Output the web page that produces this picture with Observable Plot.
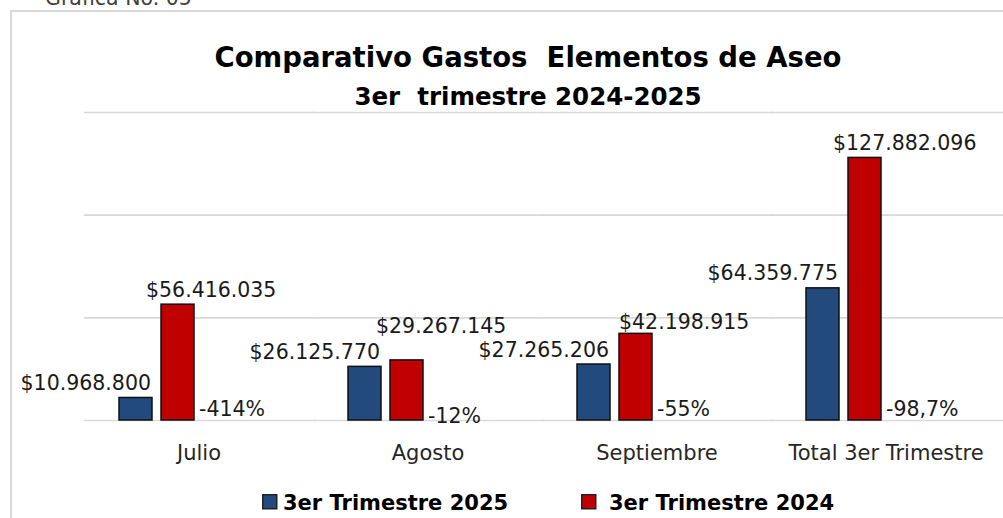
<!DOCTYPE html>
<html>
<head>
<meta charset="utf-8">
<script src="https://cdn.jsdelivr.net/npm/d3@7"></script>
<script src="https://cdn.jsdelivr.net/npm/@observablehq/plot@0.6"></script>
<style>
  html, body { margin: 0; padding: 0; background: #fff; }
  #wrap { position: relative; width: 1003px; height: 518px; overflow: hidden; background: #fff; font-family: "DejaVu Sans", sans-serif; }
  #frame { position: absolute; left: 10px; top: 10px; width: 1100px; height: 600px; border: 2px solid #d9d9d9; box-sizing: border-box; }
  #wrap > svg { position: absolute; left: 0; top: 0; }
</style>
</head>
<body>
<div id="wrap"><div id="frame"></div></div>
<script>
// ---- data ----
const categories = ["Julio", "Agosto", "Septiembre", "Total 3er Trimestre"];
const series = ["3er Trimestre 2025", "3er Trimestre 2024"];
const gastos2025 = [10968800, 26125770, 27265206, 64359775];
const gastos2024 = [56416035, 29267145, 42198915, 127882096];
const variacion = ["-414%", "-12%", "-55%", "-98,7%"];
const yTicks = [0, 50000000, 100000000, 150000000];
const titleLines = ["Comparativo Gastos  Elementos de Aseo", "3er  trimestre 2024-2025"];
const caption = "Gráfica No. 05";

// ---- styles ----
const colors = ["#234a7d", "#c00000"];
const slots = [series[0], series[1], "Variación", "—"];

const locale = d3.formatLocale({decimal: ",", thousands: ".", grouping: [3], currency: ["$", ""]});
const fmt = locale.format("$,.0f");

const rows = [];
categories.forEach((c, i) => {
  rows.push({category: c, serie: series[0], value: gastos2025[i], i});
  rows.push({category: c, serie: series[1], value: gastos2024[i], i});
});
const rows25 = rows.filter(d => d.serie === series[0]);
const rows24 = rows.filter(d => d.serie === series[1]);
const pct = categories.map((c, i) => ({category: c, text: variacion[i], i}));

const labelStyle = {fontSize: 20.5, fill: "#1a1a1a", lineAnchor: "bottom"};

const chart = Plot.plot({
  width: 1003,
  height: 518,
  marginLeft: 84,
  marginRight: 3,
  marginTop: 112,
  marginBottom: 98,
  style: {fontFamily: "DejaVu Sans", background: "transparent", overflow: "visible"},
  fx: {domain: categories, padding: 0, label: null},
  x: {domain: slots, paddingInner: 0.214, paddingOuter: 0.833, axis: null},
  y: {domain: [0, 150000000], axis: null},
  color: {domain: series, range: colors},
  marks: [
    Plot.ruleY(yTicks, {stroke: "#d9d9d9", strokeWidth: 1.6, insetRight: -3}),
    Plot.barY(rows, {fx: "category", x: "serie", y: "value", fill: "serie", stroke: "#111", strokeWidth: 1.5}),
    Plot.text(rows25, {fx: "category", x: "serie", y: "value", text: d => fmt(d.value), textAnchor: "end", dx: 15, dy: -8, ...labelStyle}),
    Plot.text(rows24.filter(d => d.category !== "Agosto" && d.category !== "Septiembre"), {fx: "category", x: "serie", y: "value", text: d => fmt(d.value), textAnchor: "start", dx: -32, dy: -8, ...labelStyle}),
    Plot.text(rows24.filter(d => d.category === "Agosto"), {fx: "category", x: "serie", y: "value", text: d => fmt(d.value), textAnchor: "start", dx: -31, dy: -27, ...labelStyle}),
    Plot.text(rows24.filter(d => d.category === "Septiembre"), {fx: "category", x: "serie", y: "value", text: d => fmt(d.value), textAnchor: "start", dx: -17, dy: -5, ...labelStyle}),
    Plot.text(pct.filter(d => d.category !== "Agosto"), {fx: "category", x: () => slots[2], y: 0, text: "text", textAnchor: "start", dx: -21, dy: -5, ...labelStyle}),
    Plot.text(pct.filter(d => d.category === "Agosto"), {fx: "category", x: () => slots[2], y: 0, text: "text", textAnchor: "start", dx: -21, dy: 2, ...labelStyle}),
    Plot.axisFx({anchor: "bottom", tickSize: 0, tickPadding: 25, fontSize: 21, fill: "#262626", label: null})
  ]
});
document.getElementById("wrap").appendChild(chart);

// ---- title, caption, legend overlay ----
const ov = d3.select("#wrap").append("svg")
  .attr("width", 1003).attr("height", 518)
  .style("pointer-events", "none")
  .style("font-family", "DejaVu Sans");

const keepSpaces = s => s.replace(/  /g, "\u00a0 ");

ov.append("text").attr("x", 45).attr("y", 5).attr("font-size", 20.5).attr("fill", "#404040").text(caption);

ov.append("text").attr("x", 528).attr("y", 67).attr("text-anchor", "middle")
  .attr("font-size", 27.5).attr("font-weight", "bold").attr("fill", "#000").text(keepSpaces(titleLines[0]));
ov.append("text").attr("x", 528).attr("y", 105).attr("text-anchor", "middle")
  .attr("font-size", 24.5).attr("font-weight", "bold").attr("fill", "#000").text(keepSpaces(titleLines[1]));

const legendX = [262, 581];
const legendTextX = [283, 609];
series.forEach((s, i) => {
  ov.append("rect").attr("x", legendX[i] + 0.75).attr("y", 494.75).attr("width", 14).attr("height", 14)
    .attr("fill", colors[i]).attr("stroke", "#222").attr("stroke-width", 1.5);
  ov.append("text").attr("x", legendTextX[i]).attr("y", 510)
    .attr("font-size", 21).attr("font-weight", "bold").attr("fill", "#000").text(s);
});
</script>
</body>
</html>
